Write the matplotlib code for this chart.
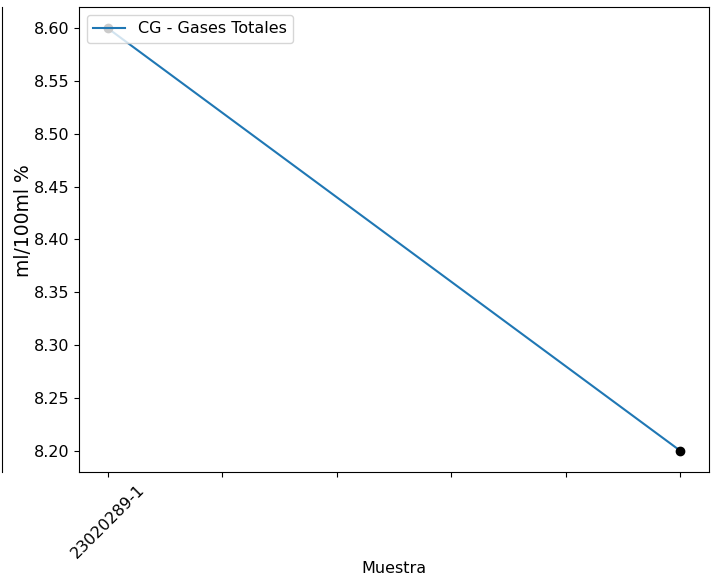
import matplotlib
matplotlib.use("Agg")
import matplotlib.pyplot as plt

# data
muestras = ['23020289-1', '', '', '', '', '']
x_pos = [0, 5]
gases_totales = [8.60, 8.20]

plt.rcParams['font.size'] = 11.5

fig = plt.figure(figsize=(7.12, 5.84), dpi=100)

# edge of the neighbouring subplot that is cut off on the left
ax0 = fig.add_axes([-0.5, 0.1918, 0.5025, 0.7962])
for side in ['left', 'top', 'bottom']:
    ax0.spines[side].set_visible(False)
ax0.set_xticks([])
ax0.set_yticks([])

ax = fig.add_axes([0.111, 0.1918, 0.8848, 0.7962])
ax.plot(x_pos, gases_totales, color='C0', label='CG - Gases Totales')
ax.plot(x_pos, gases_totales, 'o', color='black', markersize=6)
ax.set_xticks(range(len(muestras)))
ax.set_xticklabels(muestras, rotation=45)
ax.set_xlabel('Muestra')
ax.set_ylabel('ml/100ml %', fontsize=13.5)
ax.yaxis.set_label_coords(-0.073, 0.54)
ax.xaxis.set_label_coords(0.5, -0.192)
ax.yaxis.set_major_formatter(matplotlib.ticker.FormatStrFormatter('%.2f'))
ax.legend(loc='upper left')

fig.savefig('out.png', dpi=100)
